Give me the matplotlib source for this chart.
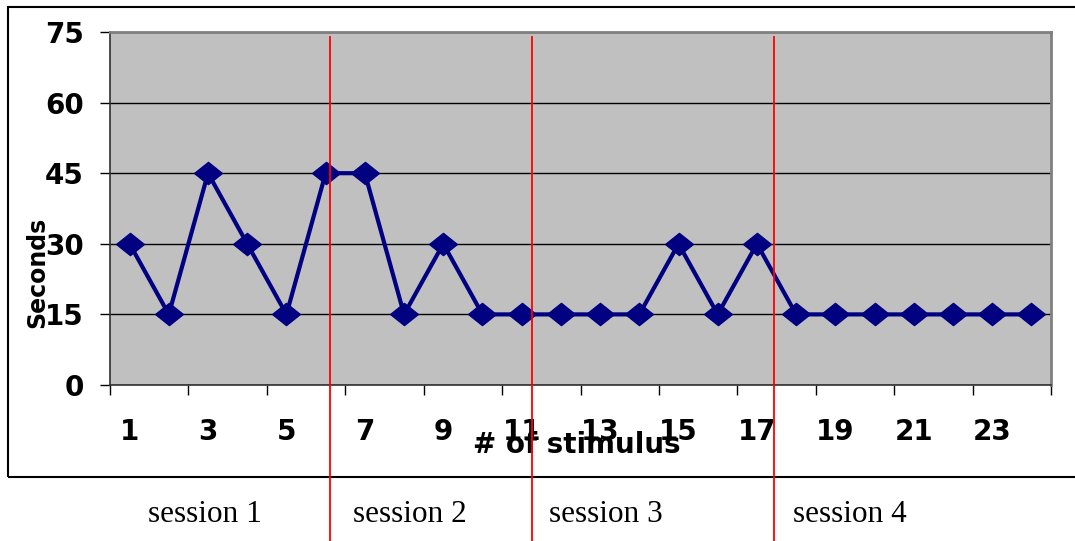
import matplotlib.pyplot as plt
import numpy as np
from matplotlib.lines import Line2D
from matplotlib.patches import Rectangle
from matplotlib.path import Path

# data
stimulus = list(range(1, 25))
seconds = [30, 15, 45, 30, 15, 45, 45, 15, 30, 15, 15, 15,
           15, 15, 30, 15, 30, 15, 15, 15, 15, 15, 15, 15]
y_ticks = [0, 15, 30, 45, 60, 75]
x_labels = [1, 3, 5, 7, 9, 11, 13, 15, 17, 19, 21, 23]
sessions = ['session 1', 'session 2', 'session 3', 'session 4']
session_x = [205, 410, 606, 850]      # label centres, pixels
divider_x = [330, 532, 774]           # red session dividers, pixels

W, H = 1075, 541
fig = plt.figure(figsize=(W / 100, H / 100), dpi=100)
ax = fig.add_axes([110 / W, 1 - 385 / H, 941 / W, 353 / H])
ax.set_facecolor('#c0c0c0')

# wide, flat diamond marker
diamond = Path([(-1, 0), (0, 0.8), (1, 0), (0, -0.8), (-1, 0)],
               [Path.MOVETO, Path.LINETO, Path.LINETO, Path.LINETO, Path.CLOSEPOLY])
ax.plot(stimulus, seconds, color='#000080', linewidth=3,
        marker=diamond, markersize=20, zorder=3, clip_on=False)

ax.set_xlim(0.5, 24.5)
ax.set_ylim(0, 75)
ax.set_yticks(y_ticks)
ax.yaxis.grid(True, color='black', linewidth=1)
ax.set_axisbelow(True)

bold = dict(family='DejaVu Sans', weight='bold', size=20)
ax.set_yticklabels([str(v) for v in y_ticks], fontdict=bold)
ax.tick_params(axis='y', direction='out', length=7, width=1, pad=12)

# tick marks every other category boundary, labels on odd categories
ax.set_xticks(np.arange(0.5, 25, 2))
ax.set_xticklabels([])
ax.set_xticks(x_labels, minor=True)
ax.set_xticklabels([str(v) for v in x_labels], minor=True, fontdict=bold)
ax.tick_params(axis='x', which='major', direction='out', length=7, width=1)
ax.tick_params(axis='x', which='minor', length=0, pad=24)

for side in ['left', 'bottom']:
    ax.spines[side].set_color('#303030')
    ax.spines[side].set_linewidth(1.2)
for side in ['top', 'right']:
    ax.spines[side].set_color('#808080')
    ax.spines[side].set_linewidth(2)

ax.set_xlabel('# of stimulus', fontdict=bold, va='center')
ax.xaxis.set_label_coords(0.496, -0.17)
ax.set_ylabel('Seconds', family='DejaVu Sans', weight='bold', size=17, va='center')
ax.yaxis.set_label_coords(-0.0776, 0.32)

# chart frame
fig.add_artist(Rectangle((8 / W, 1 - 477 / H), 1.2, 470 / H, transform=fig.transFigure,
                         fill=False, edgecolor='black', linewidth=1.5))

for x in divider_x:
    fig.add_artist(Line2D([x / W, x / W], [0, 1 - 37 / H], color='red', linewidth=1.3,
                          transform=fig.transFigure, zorder=5))

for x, s in zip(session_x, sessions):
    fig.text(x / W, 1 - 514 / H, s, family='Liberation Serif', size=22.5,
             ha='center', va='center')

plt.savefig('out.png', dpi=100)
plt.close()
